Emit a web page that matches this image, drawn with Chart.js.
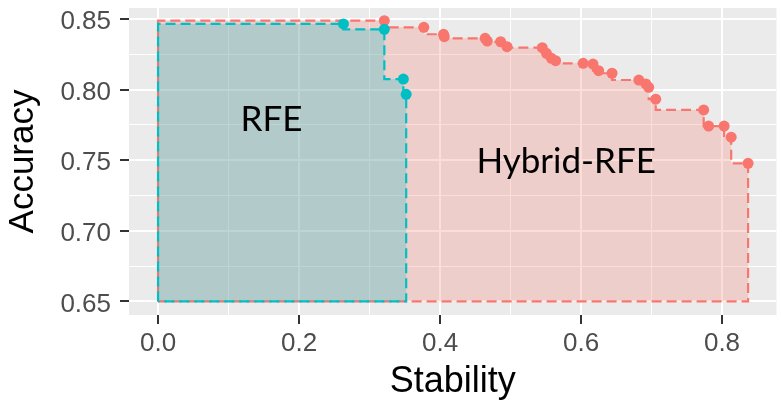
<!DOCTYPE html>
<html lang="en">
<head>
  <meta charset="UTF-8">
  <title>Stability vs Accuracy</title>
  <script src="https://cdn.jsdelivr.net/npm/chart.js"></script>
  <style>
    body { margin: 0; background: #ffffff; }
  </style>
</head>
<body>

  <canvas id="myChart" width="782" height="402"></canvas>

<script>
  // Hybrid-RFE front
  var hybridStability = [0.321, 0.377, 0.405, 0.406, 0.464, 0.467, 0.486, 0.495, 0.545, 0.551, 0.558, 0.564,
                         0.603, 0.617, 0.625, 0.644, 0.682, 0.692, 0.696, 0.706, 0.774, 0.781, 0.803, 0.813, 0.837];
  var hybridAccuracy  = [0.8488, 0.8441, 0.8392, 0.8375, 0.8363, 0.8344, 0.8339, 0.8304, 0.8297, 0.8257, 0.8222, 0.8205,
                         0.8186, 0.8181, 0.8134, 0.8116, 0.8068, 0.8040, 0.8016, 0.7932, 0.7856, 0.7742, 0.7742, 0.7663, 0.7478];

  // RFE front
  var rfeStability = [0.263, 0.321, 0.348, 0.352];
  var rfeAccuracy  = [0.8465, 0.8427, 0.8075, 0.7967];

  var baseAccuracy = 0.65;

  var xMajorTicks = [0, 0.2, 0.4, 0.6, 0.8];
  var xMinorTicks = [0.1, 0.3, 0.5, 0.7];
  var yMajorTicks = [0.65, 0.70, 0.75, 0.80, 0.85];
  var yMinorTicks = [0.675, 0.725, 0.775, 0.825];

  var regionLabels = ['RFE', 'Hybrid-RFE'];
  var regionLabelX = [0.161, 0.579];
  var regionLabelY = [0.771, 0.741];

  var salmon = '#F8766D';
  var teal = '#00BFC4';

  function toPoints(xs, ys) {
    var pts = [];
    for (var i = 0; i < xs.length; i++) {
      pts.push({x: xs[i], y: ys[i]});
    }
    return pts;
  }

  // closed outline of the dominated area, drawn as steps
  function frontPolygon(xs, ys) {
    var pts = [{x: 0, y: baseAccuracy}, {x: 0, y: ys[0]}];
    pts = pts.concat(toPoints(xs, ys));
    pts.push({x: xs[xs.length - 1], y: baseAccuracy});
    pts.push({x: 0, y: baseAccuracy});
    return pts;
  }

  function isIn(list, v) {
    for (var i = 0; i < list.length; i++) {
      if (Math.abs(list[i] - v) < 1e-9) return true;
    }
    return false;
  }

  var panelBackground = {
    id: 'panelBackground',
    beforeDraw: function(chart) {
      var ctx = chart.ctx;
      var a = chart.chartArea;
      ctx.save();
      ctx.fillStyle = '#ffffff';
      ctx.fillRect(0, 0, chart.width, chart.height);
      ctx.fillStyle = '#EBEBEB';
      ctx.fillRect(a.left, a.top, a.right - a.left, a.bottom - a.top);
      ctx.restore();
    }
  };

  var regionText = {
    id: 'regionText',
    afterDatasetsDraw: function(chart) {
      var ctx = chart.ctx;
      ctx.save();
      ctx.fillStyle = '#000000';
      ctx.font = '35px Lato';
      ctx.textAlign = 'center';
      ctx.textBaseline = 'alphabetic';
      for (var i = 0; i < regionLabels.length; i++) {
        var px = chart.scales.x.getPixelForValue(regionLabelX[i]);
        var py = chart.scales.y.getPixelForValue(regionLabelY[i]);
        ctx.fillText(regionLabels[i], px, py);
      }
      ctx.restore();
    }
  };

  function gridStyle(majors) {
    return {
      color: '#ffffff',
      lineWidth: function(c) { return c.tick && isIn(majors, c.tick.value) ? 2 : 1; },
      tickColor: function(c) { return c.tick && isIn(majors, c.tick.value) ? '#333333' : 'rgba(0,0,0,0)'; },
      tickWidth: 2,
      tickLength: 9
    };
  }

  const ctx = document.getElementById('myChart');

  const data = {
    datasets: [
      {
        label: 'RFE points',
        data: toPoints(rfeStability, rfeAccuracy),
        backgroundColor: teal,
        borderWidth: 0,
        pointRadius: 5.5
      },
      {
        label: 'Hybrid-RFE points',
        data: toPoints(hybridStability, hybridAccuracy),
        backgroundColor: salmon,
        borderWidth: 0,
        pointRadius: 5.5
      },
      {
        type: 'line',
        label: 'RFE area',
        data: frontPolygon(rfeStability, rfeAccuracy),
        stepped: 'after',
        fill: 'shape',
        backgroundColor: 'rgba(0,191,196,0.25)',
        borderColor: teal,
        borderWidth: 2.2,
        borderDash: [10, 5],
        pointRadius: 0
      },
      {
        type: 'line',
        label: 'Hybrid-RFE area',
        data: frontPolygon(hybridStability, hybridAccuracy),
        stepped: 'after',
        fill: 'shape',
        backgroundColor: 'rgba(248,118,109,0.25)',
        borderColor: salmon,
        borderWidth: 2.2,
        borderDash: [10, 5],
        borderDashOffset: 7,
        pointRadius: 0
      }
    ]
  };

  const config = {
    type: 'scatter',
    data: data,
    plugins: [panelBackground, regionText],
    options: {
      responsive: false,
      animation: false,
      layout: { padding: { top: 8, left: 0, right: 0, bottom: 0 } },
      plugins: {
        legend: { display: false },
        tooltip: { enabled: false }
      },
      scales: {
        x: {
          type: 'linear',
          min: -0.0412,
          max: 0.8773,
          border: { display: false },
          grid: gridStyle(xMajorTicks),
          afterBuildTicks: function(scale) {
            scale.ticks = xMajorTicks.concat(xMinorTicks).sort(function(a, b) { return a - b; })
              .map(function(v) { return {value: v}; });
          },
          afterFit: function(scale) {
            scale.height = 87;
            scale.paddingLeft = 0;
            scale.paddingRight = 0;
          },
          ticks: {
            autoSkip: false,
            maxRotation: 0,
            padding: 4,
            color: '#4D4D4D',
            font: { family: 'Liberation Sans', size: 26 },
            callback: function(v) { return isIn(xMajorTicks, v) ? v.toFixed(1) : ''; }
          },
          title: {
            display: true,
            text: 'Stability',
            color: '#000000',
            padding: { top: 0, bottom: 1.5 },
            font: { family: 'Liberation Sans', size: 36, lineHeight: 1 }
          }
        },
        y: {
          type: 'linear',
          min: 0.6404,
          max: 0.8578,
          border: { display: false },
          grid: gridStyle(yMajorTicks),
          afterBuildTicks: function(scale) {
            scale.ticks = yMajorTicks.concat(yMinorTicks).sort(function(a, b) { return a - b; })
              .map(function(v) { return {value: v}; });
          },
          afterFit: function(scale) {
            scale.width = 129;
            scale.paddingTop = 0;
            scale.paddingBottom = 0;
          },
          ticks: {
            autoSkip: false,
            padding: 9,
            labelOffset: 3,
            color: '#4D4D4D',
            font: { family: 'Liberation Sans', size: 26 },
            callback: function(v) { return isIn(yMajorTicks, v) ? v.toFixed(2) : ''; }
          },
          title: {
            display: true,
            text: 'Accuracy',
            color: '#000000',
            padding: { top: 5.5, bottom: 0 },
            font: { family: 'Liberation Sans', size: 35, lineHeight: 1 }
          }
        }
      }
    }
  };

  var chart = new Chart(ctx, config);
</script>
</body>
</html>
